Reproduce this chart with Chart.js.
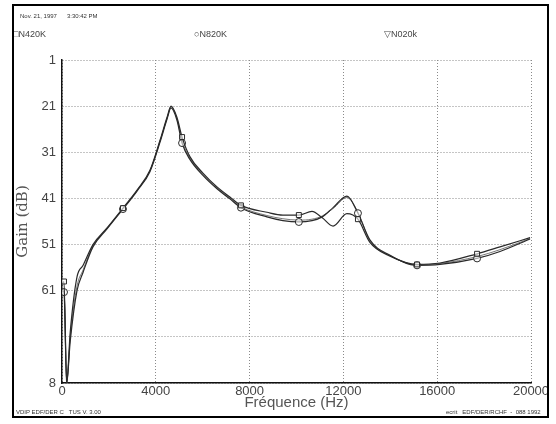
<!DOCTYPE html>
<html>
<head>
<meta charset="utf-8">
<script src="https://cdn.jsdelivr.net/npm/chart.js@4.4.1/dist/chart.umd.min.js"></script>
<style>
    html, body { margin: 0; padding: 0; background: #fff; }
    #wrap { position: relative; width: 556px; height: 424px; overflow: hidden; font-family: "Liberation Sans", Arial, sans-serif; }
    #frame { position: absolute; left: 12px; top: 4px; width: 533px; height: 410px; border: 2px solid #000; pointer-events: none; }
    canvas { position: absolute; left: 0; top: 0; }
    .txt { position: absolute; color: #333; white-space: pre; }
    .stamp { font-size: 6px; }
    .legend { font-size: 9px; top: 29px; color: #444; }
</style>
</head>
<body>
<div id="wrap">
    <canvas id="gain-chart" width="556" height="424"></canvas>
    <div class="txt stamp" style="left:20px; top:13px;">Nov. 21, 1997      3:30:42 PM</div>
    <div class="txt legend" style="left:13px;">□N420K</div>
    <div class="txt legend" style="left:194px;">○N820K</div>
    <div class="txt legend" style="left:384px;">▽N020k</div>
    <div class="txt stamp" style="left:16px; top:409px;">VDIP EDF/DER C   TUS V. 3.00</div>
    <div class="txt stamp" style="left:446px; top:409px;">ecrit   EDF/DER/RCHF  -  088 1992</div>
    <div id="frame"></div>
</div>
<script>
// ====== DATA ======
const FREQ = [0, 85, 200, 350, 640, 900, 1320, 1920, 2600, 3200, 3750, 4180, 4480, 4650, 4900, 5120,
    5460, 6010, 6610, 7160, 7630, 8740, 9420, 10100, 10660, 11100, 11560, 12150, 12620, 13130,
    13990, 15140, 16120, 17700, 18680, 19960];

const N420K = [59.5, 59.0, 81, 70, 58, 55.5, 51.0, 47.4, 43.1, 39.2, 34.9, 28.4, 23.4, 21.0, 23.4, 27.7,
    32.0, 35.5, 38.5, 40.7, 42.5, 44.0, 44.6, 44.6, 43.8, 45.2, 47.0, 44.3, 45.5, 50.5,
    53.5, 55.3, 55.0, 53.0, 51.5, 49.5];

const N820K = [61.0, 61.3, 81, 72, 61, 57.0, 51.5, 47.6, 43.3, 39.4, 35.2, 28.8, 23.8, 21.4, 24.0, 29.0,
    32.6, 36.0, 38.9, 41.1, 43.0, 45.0, 45.8, 46.1, 45.8, 45.0, 43.0, 40.5, 44.2, 50.0,
    53.3, 55.5, 55.3, 54.0, 52.5, 49.8];

const N020K = [60.5, 60.8, 81, 71, 60, 56.5, 51.3, 47.5, 43.2, 39.3, 35.0, 28.6, 23.6, 21.2, 23.7, 28.5,
    32.3, 35.8, 38.7, 40.9, 42.8, 44.7, 45.4, 45.7, 45.5, 44.8, 43.2, 40.8, 44.0, 50.2,
    53.4, 55.4, 55.1, 53.6, 52.1, 49.7];

// frequencies where the plotter put a symbol
const MARKER_FREQ = [85, 2600, 5120, 7630, 10100, 12620, 15140, 17700];

const X_TICKS = [0, 4000, 8000, 12000, 16000, 20000];
const Y_TICKS = [11, 21, 31, 41, 51, 61, 71, 81];
const Y_TICK_TEXT = ['1', '21', '31', '41', '51', '61', '', '8']; // as printed on the scan

function toPoints(values) {
    return values.map((v, i) => ({ x: FREQ[i], y: v }));
}

function markerRadius(ctx) {
    return MARKER_FREQ.includes(FREQ[ctx.dataIndex]) ? 3.5 : 0;
}

const lineColor = '#2a2a2a';

new Chart(document.getElementById('gain-chart'), {
    type: 'line',
    data: {
        datasets: [
            {
                label: 'N420K',
                data: toPoints(N420K),
                borderColor: lineColor,
                borderWidth: 1.2,
                cubicInterpolationMode: 'monotone',
                pointStyle: 'rect',
                pointRadius: markerRadius,
                pointBorderColor: lineColor,
                pointBackgroundColor: 'rgba(255,255,255,0.6)',
                pointBorderWidth: 1
            },
            {
                label: 'N820K',
                data: toPoints(N820K),
                borderColor: lineColor,
                borderWidth: 1.2,
                cubicInterpolationMode: 'monotone',
                pointStyle: 'circle',
                pointRadius: markerRadius,
                pointBorderColor: lineColor,
                pointBackgroundColor: 'rgba(255,255,255,0.6)',
                pointBorderWidth: 1
            },
            {
                label: 'N020k',
                data: toPoints(N020K),
                borderColor: '#555',
                borderWidth: 0.8,
                cubicInterpolationMode: 'monotone',
                pointRadius: 0
            }
        ]
    },
    options: {
        responsive: false,
        animation: false,
        layout: { padding: { left: 14, top: 60, right: 25, bottom: 12 } },
        plugins: {
            legend: { display: false },
            tooltip: { enabled: false }
        },
        scales: {
            x: {
                type: 'linear',
                min: 0,
                max: 20000,
                afterBuildTicks: axis => { axis.ticks = X_TICKS.map(v => ({ value: v })); },
                afterFit: axis => { axis.height = 29; },
                ticks: {
                    color: '#444',
                    font: { family: 'Liberation Sans', size: 13 },
                    padding: 1,
                    maxRotation: 0,
                    callback: value => String(value)
                },
                grid: { color: '#8a8a8a', lineWidth: 1, drawTicks: false },
                border: { color: '#111', width: 1.5, dash: [1, 2] },
                title: {
                    display: true,
                    text: 'Fréquence (Hz)',
                    color: '#555',
                    font: { family: 'Liberation Sans', size: 15 },
                    padding: { top: 0, bottom: 0 }
                }
            },
            y: {
                reverse: true,
                min: 11,
                max: 81,
                afterBuildTicks: axis => { axis.ticks = Y_TICKS.map(v => ({ value: v })); },
                afterFit: axis => { axis.width = 48; },
                ticks: {
                    color: '#444',
                    font: { family: 'Liberation Sans', size: 13 },
                    padding: 6,
                    callback: value => Y_TICK_TEXT[Y_TICKS.indexOf(value)]
                },
                grid: { color: '#8a8a8a', lineWidth: 1, drawTicks: false },
                border: { color: '#111', width: 1.5, dash: [1, 2] },
                title: {
                    display: true,
                    text: 'Gain (dB)',
                    color: '#555',
                    font: { family: 'DejaVu Serif', size: 15 },
                    padding: 0
                }
            }
        }
    }
});
</script>
</body>
</html>
